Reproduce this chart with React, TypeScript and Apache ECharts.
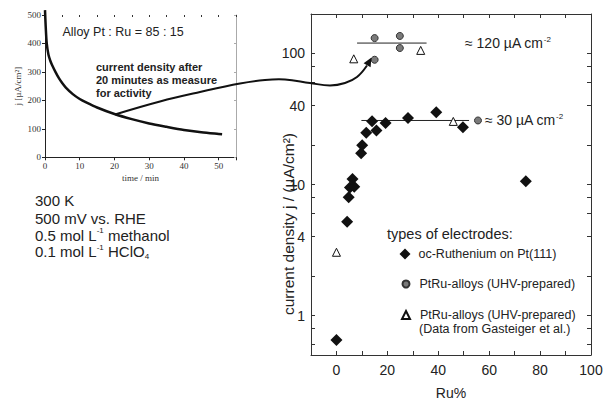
import React, { useEffect, useRef } from "react";
import * as echarts from "echarts";

// ---- main plot data (Ru %, current density in µA/cm²) ----
const ocRuthenium: [number, number][] = [
  [0, 0.65], [4.2, 5.2], [4.8, 8.0], [5.3, 9.5], [7.0, 9.6], [6.3, 11.0],
  [9.7, 17.3], [10.1, 19.9], [11.7, 24.8], [14.0, 30.4], [15.7, 25.8],
  [19.3, 29.4], [28.1, 32.1], [39.2, 35.6], [49.7, 27.4], [74.4, 10.6],
];
const ptRuAlloys: [number, number][] = [
  [15.0, 131], [24.9, 136], [24.9, 110], [15.0, 89.5], [55.6, 30.8],
];
const gasteiger: [number, number][] = [
  [6.8, 91], [33.1, 105.5], [45.9, 30.3], [0, 3.04],
];
const level120: [number, number][] = [[8.1, 120], [35.4, 120]];
const level30: [number, number][] = [[9.8, 30.8], [52.1, 30.8]];

const xLabelValues = [0, 20, 40, 60, 80, 100];
const yLabelValues = [1, 4, 10, 40, 100];
const yTickValues = [0.6, 0.8, 1, 2, 4, 6, 8, 10, 20, 40, 60, 80, 100];

// ---- inset data (time / min, j / µA cm⁻²) ----
const insetTime = [0, 0.2, 0.5, 1, 1.5, 2, 3, 4, 5, 6, 8, 10, 12, 15, 20, 25, 30, 35, 40, 45, 50, 51];
const insetCurrent = [517, 460, 400, 360, 340, 325, 300, 278, 260, 245, 222, 205, 192, 175, 152, 134, 119, 107, 96, 88, 82, 81];

const SANS = "'Liberation Sans', Arial, Helvetica, sans-serif";
const SERIF = "'Liberation Serif', 'Times New Roman', serif";
const INK = "#222";

const toLog = (d: [number, number][]) => d.map(([x, y]) => [x, Math.log10(y)]);
const fromLog = (v: number) => String(Math.round(Math.pow(10, v) * 100) / 100);

export default function App() {
  const ref = useRef<HTMLDivElement>(null);

  useEffect(() => {
    if (!ref.current) return;
    const chart = echarts.init(ref.current, null, { renderer: "svg" });

    const yMin = Math.log10(0.5);
    const yMax = Math.log10(200);
    const axisLine = { show: true, onZero: false, lineStyle: { color: "#333", width: 1 } };
    const insetLine = { show: true, onZero: false, lineStyle: { color: "#222", width: 1 } };
    const legendText = { fontSize: 12.5, lineHeight: 13, color: INK, fontFamily: SANS };

    const option: any = {
      animation: false,
      backgroundColor: "#fff",
      textStyle: { fontFamily: SANS, color: INK },
      grid: [
        { left: 311, top: 14, right: 14, bottom: 49, containLabel: false, outerBoundsMode: "none" },
        { left: 45, top: 15, width: 191, height: 142.3, containLabel: false, outerBoundsMode: "none" },
      ],
      xAxis: [
        {
          gridIndex: 0, type: "value", position: "bottom", min: -10, max: 100, interval: 10,
          axisLine, splitLine: { show: false },
          axisTick: { inside: true, length: 4, lineStyle: { color: "#333" } },
          axisLabel: {
            fontSize: 14, color: INK, margin: 8, fontFamily: SANS,
            formatter: (v: number) => (xLabelValues.includes(v) ? String(v) : ""),
          },
          name: "Ru%", nameLocation: "middle", nameGap: 31, nameMoveOverlap: false,
          nameTextStyle: { fontSize: 14, color: INK, fontFamily: SANS },
        },
        {
          gridIndex: 0, type: "value", position: "top", min: -10, max: 100, interval: 10,
          axisLine, splitLine: { show: false },
          axisTick: { inside: true, length: 4, lineStyle: { color: "#333" } },
          axisLabel: { show: false },
        },
        {
          gridIndex: 1, type: "value", position: "bottom", min: 0, max: 55, interval: 10,
          axisLine: insetLine, splitLine: { show: false },
          axisTick: { inside: false, length: 3, lineStyle: { color: "#222" } },
          axisLabel: {
            fontSize: 9, color: "#333", fontFamily: SERIF, margin: 4,
            formatter: (v: number) => (v % 10 === 0 ? String(v) : ""),
          },
          name: "time / min", nameLocation: "middle", nameGap: 16,
          nameTextStyle: { fontSize: 9, color: "#333", fontFamily: SERIF },
        },
        {
          gridIndex: 1, type: "value", position: "top", min: 0, max: 55, interval: 5,
          axisLine: { show: false, onZero: false }, splitLine: { show: false },
          axisTick: { show: true, inside: true, length: 2, lineStyle: { color: "#333" } },
          axisLabel: { show: false },
        },
      ],
      yAxis: [
        {
          gridIndex: 0, type: "value", position: "left", min: yMin, max: yMax,
          axisLine, splitLine: { show: false },
          axisTick: {
            inside: true, length: 4, lineStyle: { color: "#333" },
            customValues: yTickValues.map((v) => Math.log10(v)),
          },
          axisLabel: {
            fontSize: 14, color: INK, margin: 6, fontFamily: SANS,
            customValues: yLabelValues.map((v) => Math.log10(v)),
            formatter: fromLog,
          },
        },
        {
          gridIndex: 0, type: "value", position: "right", min: yMin, max: yMax,
          axisLine, splitLine: { show: false },
          axisTick: {
            inside: true, length: 4, lineStyle: { color: "#333" },
            customValues: yTickValues.map((v) => Math.log10(v)),
          },
          axisLabel: { show: false },
        },
        {
          gridIndex: 1, type: "value", position: "left", min: 0, max: 500, interval: 100,
          axisLine: insetLine, splitLine: { show: false },
          axisTick: { inside: false, length: 3, lineStyle: { color: "#222" } },
          axisLabel: { fontSize: 9, color: "#333", fontFamily: SERIF, margin: 4 },
          name: "j [µA/cm²]", nameLocation: "middle", nameGap: 23,
          nameTextStyle: { fontSize: 9, color: "#333", fontFamily: SERIF },
        },
        {
          gridIndex: 1, type: "value", position: "right", min: 0, max: 500, interval: 100,
          axisLine: { show: true, onZero: false, lineStyle: { color: "#aaa", width: 1 } },
          splitLine: { show: false },
          axisTick: { inside: true, length: 2, lineStyle: { color: "#aaa" } },
          axisLabel: { show: false },
        },
      ],
      legend: [
        {
          data: ["oc-Ruthenium on Pt(111)"], orient: "vertical", left: 399.5, top: 247.5,
          padding: 0, itemWidth: 11, itemHeight: 11, selectedMode: false,
          textStyle: { ...legendText, padding: [0, 0, 0, 3] },
        },
        {
          data: ["PtRu-alloys (UHV-prepared)"], orient: "vertical", left: 401.5, top: 277.5,
          padding: 0, itemWidth: 7, itemHeight: 7, selectedMode: false,
          textStyle: { ...legendText, padding: [0, 0, 0, 5] },
        },
        {
          data: ["PtRu-alloys (UHV-prepared) "], orient: "vertical", left: 401, top: 308.5,
          padding: 0, itemWidth: 8, itemHeight: 8, selectedMode: false,
          textStyle: { ...legendText, padding: [0, 0, 0, 5] },
        },
      ],
      series: [
        {
          name: "level120", type: "line", xAxisIndex: 0, yAxisIndex: 0,
          data: toLog(level120), symbol: "none", silent: true,
          lineStyle: { color: "#222", width: 1 }, z: 1,
        },
        {
          name: "level30", type: "line", xAxisIndex: 0, yAxisIndex: 0,
          data: toLog(level30), symbol: "none", silent: true,
          lineStyle: { color: "#222", width: 1 }, z: 1,
        },
        {
          name: "oc-Ruthenium on Pt(111)", type: "scatter", xAxisIndex: 0, yAxisIndex: 0,
          data: toLog(ocRuthenium), symbol: "diamond", symbolSize: 12,
          itemStyle: { color: "#111", opacity: 1 }, z: 3,
        },
        {
          name: "PtRu-alloys (UHV-prepared)", type: "scatter", xAxisIndex: 0, yAxisIndex: 0,
          data: toLog(ptRuAlloys), symbol: "circle", symbolSize: 7,
          itemStyle: { color: "#7a7a7a", borderColor: "#333", borderWidth: 1, opacity: 1 }, z: 3,
        },
        {
          name: "PtRu-alloys (UHV-prepared) ", type: "scatter", xAxisIndex: 0, yAxisIndex: 0,
          data: toLog(gasteiger), symbol: "triangle", symbolSize: 8,
          itemStyle: { color: "#fff", borderColor: "#111", borderWidth: 1, opacity: 1 }, z: 3,
        },
        {
          name: "inset", type: "line", xAxisIndex: 2, yAxisIndex: 2,
          data: insetTime.map((t, i) => [t, insetCurrent[i]]),
          showSymbol: false, smooth: 0.3, clip: false, silent: true,
          lineStyle: { color: "#111", width: 2.5 },
        },
      ],
      graphic: [
        {
          type: "text", x: 62.5, y: 31.5,
          style: { text: "Alloy Pt : Ru = 85 : 15", fontSize: 12.5, fontFamily: SANS, fill: INK, verticalAlign: "middle" },
        },
        {
          type: "text", x: 96, y: 60.5,
          style: {
            text: "current density after\n20 minutes as measure\nfor activity",
            fontSize: 11, fontWeight: "bold", lineHeight: 13, fontFamily: SANS, fill: INK, verticalAlign: "top",
          },
        },
        {
          type: "text", x: 35, y: 200.7,
          style: { text: "300 K", fontSize: 15, fontFamily: SANS, fill: INK, verticalAlign: "middle" },
        },
        {
          type: "text", x: 35, y: 218.3,
          style: { text: "500 mV vs. RHE", fontSize: 15, fontFamily: SANS, fill: INK, verticalAlign: "middle" },
        },
        {
          type: "text", x: 35, y: 235,
          style: {
            text: "{n|0.5 mol L}{s|-1}{n| methanol}", verticalAlign: "middle", fill: INK,
            rich: {
              n: { fontSize: 15, fontFamily: SANS, lineHeight: 17, fill: INK },
              s: { fontSize: 8, fontFamily: SANS, verticalAlign: "top", lineHeight: 10, fill: INK },
            },
          },
        },
        {
          type: "text", x: 35, y: 251.7,
          style: {
            text: "{n|0.1 mol L}{s|-1}{n| HClO}{b|4}", verticalAlign: "middle", fill: INK,
            rich: {
              n: { fontSize: 15, fontFamily: SANS, lineHeight: 17, fill: INK },
              s: { fontSize: 8, fontFamily: SANS, verticalAlign: "top", lineHeight: 10, fill: INK },
              b: { fontSize: 8, fontFamily: SANS, verticalAlign: "bottom", lineHeight: 10, fill: INK },
            },
          },
        },
        {
          type: "text", x: 288, y: 224, rotation: Math.PI / 2,
          style: {
            text: "current density j / (µA/cm²)", fontSize: 15.5, fontFamily: SANS, fill: INK,
            align: "center", verticalAlign: "middle",
          },
        },
        {
          type: "text", x: 465, y: 43,
          style: {
            text: "{n|≈ 120 µA cm}{s|-2}", verticalAlign: "middle", fill: INK,
            rich: {
              n: { fontSize: 14, fontFamily: SANS, lineHeight: 16, fill: INK },
              s: { fontSize: 8, fontFamily: SANS, verticalAlign: "top", lineHeight: 10, fill: INK },
            },
          },
        },
        {
          type: "text", x: 485, y: 120,
          style: {
            text: "{n|≈ 30 µA cm}{s|-2}", verticalAlign: "middle", fill: INK,
            rich: {
              n: { fontSize: 14, fontFamily: SANS, lineHeight: 16, fill: INK },
              s: { fontSize: 8, fontFamily: SANS, verticalAlign: "top", lineHeight: 10, fill: INK },
            },
          },
        },
        {
          type: "text", x: 387, y: 234.3,
          style: { text: "types of electrodes:", fontSize: 14.5, fontFamily: SANS, fill: INK, verticalAlign: "middle" },
        },
        {
          type: "text", x: 419, y: 328.8,
          style: {
            text: "(Data from Gasteiger et al.)", fontSize: 12.5, lineHeight: 13,
            fontFamily: SANS, fill: INK, verticalAlign: "middle",
          },
        },
        {
          type: "polyline", z: 50, silent: true,
          shape: {
            points: [
              [115, 114.5], [160, 101.5], [200, 92], [240, 83.5], [265, 80], [285, 79.5],
              [310, 83], [330, 85.5], [345, 83], [357, 77], [367, 65.5],
            ],
            smooth: 0.4,
          },
          style: { stroke: "#111", lineWidth: 2, fill: null },
        },
        {
          type: "polygon", z: 50, silent: true,
          shape: { points: [[371.5, 57.5], [370.6, 67.3], [363.6, 63.3]] },
          style: { fill: "#111" },
        },
      ],
    };

    chart.setOption(option);
    return () => chart.dispose();
  }, []);

  return (
    <div
      ref={ref}
      style={{ position: "fixed", left: 0, top: 0, width: 605, height: 404, background: "#fff" }}
    />
  );
}
